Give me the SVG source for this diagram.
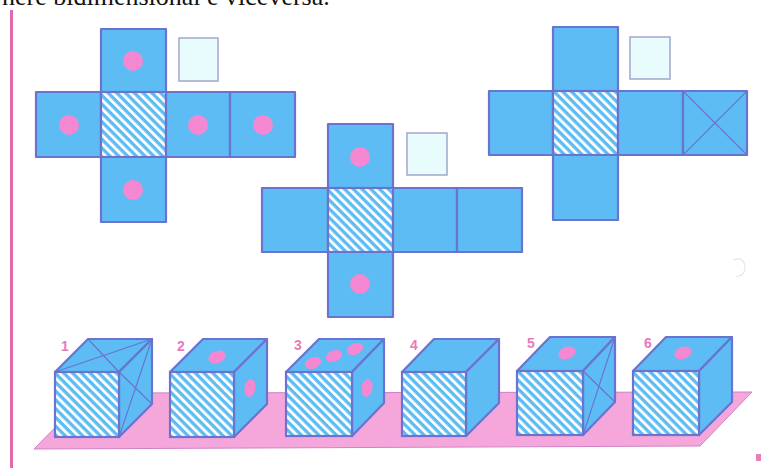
<svg xmlns="http://www.w3.org/2000/svg" width="761" height="468" viewBox="0 0 761 468">
  <defs>
    <!-- white diagonal stripes on blue for the shaded face -->
    <pattern id="hatch" patternUnits="userSpaceOnUse" width="6.2" height="6.2" patternTransform="rotate(-45)">
      <rect x="0" y="0" width="6.2" height="6.2" fill="#5cbcf3"/>
      <rect x="0" y="0" width="2.9" height="6.2" fill="#ffffff"/>
    </pattern>
    <style>
      .face { fill: #5cbcf3; stroke: #6b72cf; stroke-width: 2.2; stroke-linejoin: round; }
      .hatch { fill: url(#hatch); stroke: #6b72cf; stroke-width: 2.2; }
      .thin { stroke: #6b72cf; stroke-width: 1.1; fill: none; }
      .dot { fill: #f488d2; }
      .spare { fill: #e8fbfd; stroke: #a2a6cc; stroke-width: 1.5; }
      .num { font-family: "Liberation Sans", Arial, sans-serif; font-size: 14px; font-weight: bold; fill: #e979bd; }
      .cap { font-family: "Liberation Serif", "Times New Roman", serif; font-size: 26px; fill: #111; }
    </style>
  </defs>

  <rect x="0" y="0" width="761" height="468" fill="#ffffff"/>

  <!-- heading line, cut by the top edge -->
  <text class="cap" x="2" y="5">nere bidimensional e viceversa.</text>

  <!-- left margin rule and corner mark -->
  <rect x="10" y="10" width="3" height="458" fill="#e36aa8"/>
  <rect x="756" y="454" width="5" height="7" fill="#ea7fb8"/>
  <path d="M733,260 q10,-4 12,6 q1,9 -9,11" fill="none" stroke="#e6e6e6" stroke-width="1.2"/>

  <!-- net A -->
  <g id="net-a">
    <rect class="face" x="101" y="29" width="65" height="63"/>
    <rect class="face" x="36" y="92" width="65" height="65"/>
    <rect class="hatch" x="101" y="92" width="65" height="65"/>
    <rect class="face" x="166" y="92" width="64" height="65"/>
    <rect class="face" x="230" y="92" width="65" height="65"/>
    <rect class="face" x="101" y="157" width="65" height="65"/>
    <circle class="dot" cx="133" cy="61" r="10"/>
    <circle class="dot" cx="69" cy="125" r="10"/>
    <circle class="dot" cx="198" cy="125" r="10"/>
    <circle class="dot" cx="263" cy="125" r="10"/>
    <circle class="dot" cx="133" cy="190" r="10"/>
    <rect class="spare" x="179" y="38" width="39" height="43"/>
  </g>

  <!-- net B -->
  <g id="net-b">
    <rect class="face" x="328" y="124" width="65" height="64"/>
    <rect class="face" x="262" y="188" width="66" height="64"/>
    <rect class="hatch" x="328" y="188" width="65" height="64"/>
    <rect class="face" x="393" y="188" width="64" height="64"/>
    <rect class="face" x="457" y="188" width="65" height="64"/>
    <rect class="face" x="328" y="252" width="65" height="65"/>
    <circle class="dot" cx="360" cy="157" r="10"/>
    <circle class="dot" cx="360" cy="284" r="10"/>
    <rect class="spare" x="407" y="133" width="40" height="42"/>
  </g>

  <!-- net C -->
  <g id="net-c">
    <rect class="face" x="553" y="27" width="65" height="64"/>
    <rect class="face" x="489" y="91" width="64" height="64"/>
    <rect class="hatch" x="553" y="91" width="65" height="64"/>
    <rect class="face" x="618" y="91" width="65" height="64"/>
    <rect class="face" x="683" y="91" width="64" height="64"/>
    <path class="thin" d="M683,91 L747,155 M747,91 L683,155"/>
    <rect class="face" x="553" y="155" width="65" height="65"/>
    <rect class="spare" x="630" y="37" width="40" height="42"/>
  </g>

  <!-- floor plane under the cubes -->
  <g id="floor">
    <polygon points="34,449 89,393 752,392 700,446" fill="#f5a7dc" stroke="#cf82c4" stroke-width="1"/>
  </g>

  <!-- cube 1 -->
  <g id="cube-1">
    <polygon class="face" points="55,372 88,339 152,339 119,372"/>
    <polygon class="face" points="119,372 152,339 152,404 119,437"/>
    <rect class="hatch" x="55" y="372" width="64" height="65"/>
    <path class="thin" d="M55,372 L152,339 M88,339 L119,372 M119,372 L152,404 M119,437 L152,339"/>
    <text class="num" x="61" y="351">1</text>
  </g>

  <!-- cube 2 -->
  <g id="cube-2">
    <polygon class="face" points="170,372 203,339 267,339 234,372"/>
    <polygon class="face" points="234,372 267,339 267,404 234,437"/>
    <rect class="hatch" x="170" y="372" width="64" height="65"/>
    <ellipse class="dot" cx="217" cy="357" rx="9" ry="6" transform="rotate(-20 217 357)"/>
    <ellipse class="dot" cx="250" cy="388" rx="5.5" ry="9" transform="rotate(10 250 388)"/>
    <text class="num" x="177" y="351">2</text>
  </g>

  <!-- cube 3 -->
  <g id="cube-3">
    <polygon class="face" points="286,372 319,339 384,339 352,372"/>
    <polygon class="face" points="352,372 384,339 384,403 352,436"/>
    <rect class="hatch" x="286" y="372" width="66" height="64"/>
    <ellipse class="dot" cx="313" cy="363" rx="8.5" ry="5.5" transform="rotate(-20 313 363)"/>
    <ellipse class="dot" cx="334" cy="356" rx="8.5" ry="5.5" transform="rotate(-20 334 356)"/>
    <ellipse class="dot" cx="355" cy="349" rx="8.5" ry="5.5" transform="rotate(-20 355 349)"/>
    <ellipse class="dot" cx="367" cy="388" rx="5.5" ry="9" transform="rotate(10 367 388)"/>
    <text class="num" x="294" y="350">3</text>
  </g>

  <!-- cube 4 -->
  <g id="cube-4">
    <polygon class="face" points="402,372 434,339 499,339 466,372"/>
    <polygon class="face" points="466,372 499,339 499,403 466,436"/>
    <rect class="hatch" x="402" y="372" width="64" height="64"/>
    <text class="num" x="410" y="350">4</text>
  </g>

  <!-- cube 5 -->
  <g id="cube-5">
    <polygon class="face" points="517,371 550,337 615,337 583,371"/>
    <polygon class="face" points="583,371 615,337 615,402 583,435"/>
    <rect class="hatch" x="517" y="371" width="66" height="64"/>
    <path class="thin" d="M583,371 L615,402 M583,435 L615,337"/>
    <ellipse class="dot" cx="567" cy="353" rx="9" ry="6" transform="rotate(-20 567 353)"/>
    <text class="num" x="527" y="348">5</text>
  </g>

  <!-- cube 6 -->
  <g id="cube-6">
    <polygon class="face" points="633,371 666,337 732,337 699,371"/>
    <polygon class="face" points="699,371 732,337 732,402 699,435"/>
    <rect class="hatch" x="633" y="371" width="66" height="64"/>
    <ellipse class="dot" cx="683" cy="353" rx="9" ry="6" transform="rotate(-20 683 353)"/>
    <text class="num" x="644" y="348">6</text>
  </g>

  <!-- no connectors in this figure -->
  <g id="connectors"/>
</svg>
